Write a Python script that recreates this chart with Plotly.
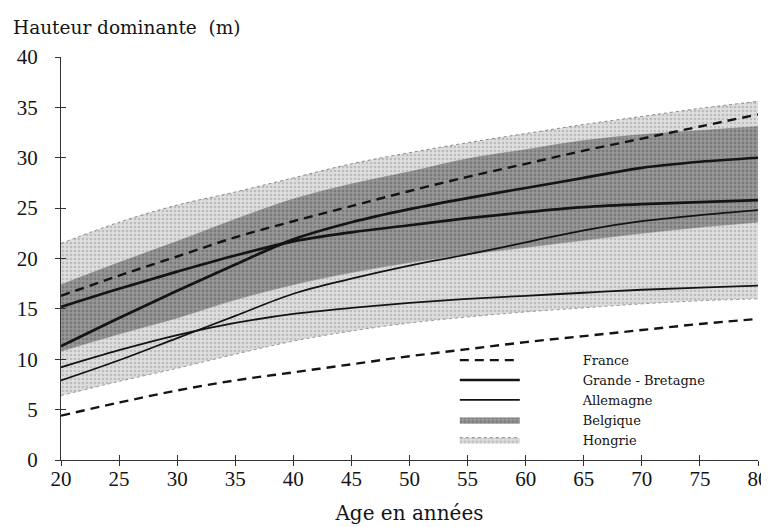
import plotly.graph_objects as go

# --- data ---
ages = [20, 25, 30, 35, 40, 45, 50, 55, 60, 65, 70, 75, 80]
france_haut = [16.3, 18.3, 20.2, 22.1, 23.7, 25.2, 26.7, 28.1, 29.4, 30.7, 31.9, 33.1, 34.3]
france_bas = [4.4, 5.7, 6.9, 7.9, 8.7, 9.5, 10.3, 11.0, 11.7, 12.3, 12.9, 13.5, 14.0]
gb_1 = [15.2, 17.0, 18.7, 20.3, 21.7, 22.6, 23.3, 24.0, 24.6, 25.1, 25.4, 25.6, 25.8]
gb_2 = [11.3, 14.1, 16.8, 19.4, 21.9, 23.6, 24.9, 26.0, 27.0, 28.0, 29.0, 29.6, 30.0]
all_1 = [9.2, 10.9, 12.4, 13.6, 14.5, 15.1, 15.6, 16.0, 16.3, 16.6, 16.9, 17.1, 17.3]
all_2 = [7.9, 9.9, 12.1, 14.3, 16.5, 18.0, 19.3, 20.4, 21.6, 22.8, 23.7, 24.3, 24.8]
bel_haut = [17.4, 19.6, 21.7, 23.9, 25.9, 27.4, 28.6, 29.9, 30.8, 31.7, 32.3, 32.7, 33.1]
bel_bas = [10.8, 12.5, 14.1, 15.9, 17.4, 18.6, 19.6, 20.4, 21.1, 21.8, 22.5, 23.1, 23.6]
hon_haut = [21.5, 23.6, 25.3, 26.6, 28.0, 29.4, 30.5, 31.5, 32.4, 33.3, 34.1, 34.9, 35.6]
hon_bas = [6.4, 7.8, 9.1, 10.5, 11.8, 12.8, 13.6, 14.2, 14.7, 15.1, 15.5, 15.8, 16.0]

x_ticks = [20, 25, 30, 35, 40, 45, 50, 55, 60, 65, 70, 75, 80]
y_ticks = [0, 5, 10, 15, 20, 25, 30, 35, 40]

INK = "#141414"
SERIF = "DejaVu Serif"
NUM = "Liberation Serif"
PAD = "\u00a0" * 14  # gap between legend key and label, as in the original

fig = go.Figure()

# Hongrie band (light stipple)
fig.add_trace(go.Scatter(x=ages, y=hon_bas, mode="lines", showlegend=False, hoverinfo="skip",
                         line=dict(color="#9a9a9a", width=1, dash="dot", shape="spline")))
fig.add_trace(go.Scatter(
    x=ages, y=hon_haut, fill="tonexty", mode="lines",
    line=dict(color="#8a8a8a", width=1, dash="dot", shape="spline"),
    fillcolor="#d6d6d6",
    fillpattern=dict(shape=".", bgcolor="#dedede", fgcolor="#999999", size=4, solidity=0.35),
    name=PAD + "Hongrie", legendrank=5, hoverinfo="skip"))
# Belgique band (dark stipple)
fig.add_trace(go.Scatter(x=ages, y=bel_bas, mode="lines", showlegend=False, hoverinfo="skip",
                         line=dict(color="#8c8c8c", width=0.5, shape="spline")))
fig.add_trace(go.Scatter(
    x=ages, y=bel_haut, fill="tonexty", mode="lines",
    line=dict(color="#7c7c7c", width=0.5, shape="spline"),
    fillcolor="#909090",
    fillpattern=dict(shape=".", bgcolor="#999999", fgcolor="#5a5a5a", size=4, solidity=0.4),
    name=PAD + "Belgique", legendrank=4, hoverinfo="skip"))

# lines (on overlay axes, drawn above the bands)
def add_line(y, name, show, width, dash, rank):
    fig.add_trace(go.Scatter(x=ages, y=y, mode="lines", name=PAD + name, legendgroup=name,
                             showlegend=show, legendrank=rank,
                             line=dict(color=INK, width=width, dash=dash, shape="spline"),
                             xaxis="x2", yaxis="y2"))

add_line(france_haut, "France", True, 2.4, "9px,6px", 1)
add_line(france_bas, "France", False, 2.4, "9px,6px", 1)
add_line(gb_1, "Grande - Bretagne", True, 2.7, "solid", 2)
add_line(gb_2, "Grande - Bretagne", False, 2.7, "solid", 2)
add_line(all_1, "Allemagne", True, 1.8, "solid", 3)
add_line(all_2, "Allemagne", False, 1.8, "solid", 3)

axis_common = dict(showgrid=False, zeroline=False, ticklen=5, tickwidth=1, tickcolor="#333")
fig.update_layout(
    width=769, height=527,
    margin=dict(l=53, r=8, t=49, b=75),
    paper_bgcolor="white", plot_bgcolor="rgba(0,0,0,0)",
    font=dict(family=SERIF, color=INK),
    xaxis=dict(range=[20, 80], tickvals=x_ticks, ticks="outside", showline=True,
               linecolor="#333", linewidth=1, tickfont=dict(family=NUM, size=21, color=INK),
               ticklabelstandoff=-5, ticklabeloverflow="allow",
               title=dict(text="Age en années", font=dict(family=SERIF, size=20, color=INK), standoff=15),
               **axis_common),
    yaxis=dict(range=[0, 40], tickvals=y_ticks, ticks="outside", showline=True,
               linecolor="#333", linewidth=1, tickfont=dict(family=NUM, size=21, color=INK),
               ticklabelstandoff=13, **axis_common),
    xaxis2=dict(range=[20, 80], overlaying="x", anchor="y2", tickvals=x_ticks, ticks="inside",
                showticklabels=False, showline=False, **axis_common),
    yaxis2=dict(range=[0, 40], overlaying="y", anchor="x2", tickvals=y_ticks, ticks="inside",
                showticklabels=False, showline=False, **axis_common),
    legend=dict(x=0.565, y=0.285, xanchor="left", yanchor="top", bgcolor="rgba(0,0,0,0)",
                font=dict(family=SERIF, size=13, color=INK), itemwidth=60,
                tracegroupgap=0),
    annotations=[dict(text="Hauteur dominante\u00a0 (m)", xref="paper", yref="paper",
                      x=-0.0716, y=1.074, xanchor="left", yanchor="middle", showarrow=False,
                      font=dict(family=SERIF, size=18.5, color=INK))],
)

fig.write_html("out.html")
